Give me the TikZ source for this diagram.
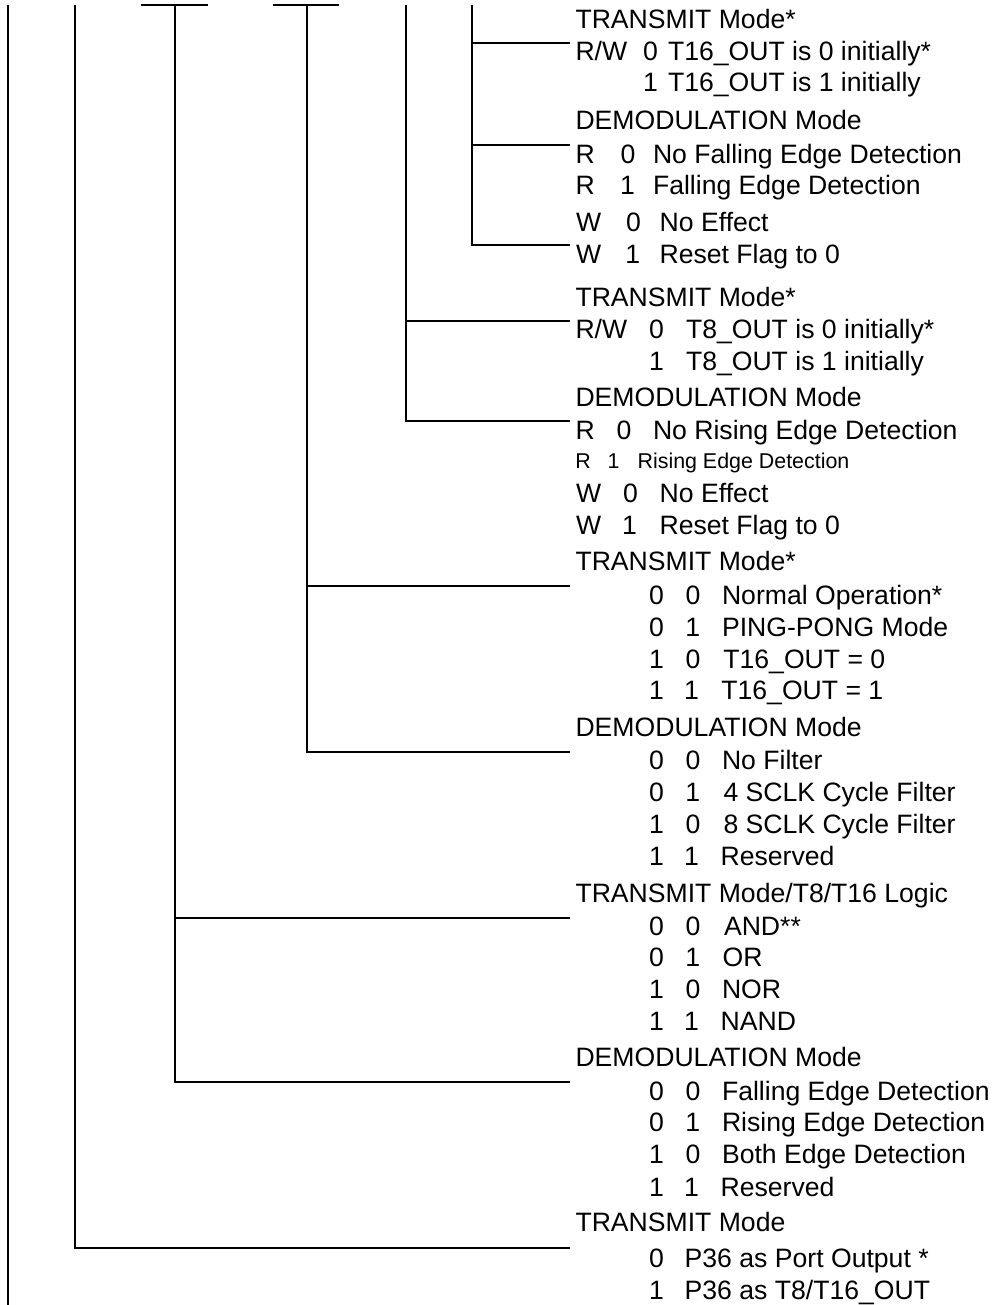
\documentclass[tikz,border=0pt]{standalone}
\usepackage{fontspec}
\setmainfont{Liberation Sans}
\begin{document}
\begin{tikzpicture}[x=1pt,y=-1pt,
  ln/.style={line width=1.1pt,black},
  txt/.style={anchor=base west,inner sep=0pt,outer sep=0pt,font=\fontsize{26.6}{32}\selectfont},
  sm/.style={anchor=base west,inner sep=0pt,outer sep=0pt,font=\fontsize{21.4}{26}\selectfont}]
\useasboundingbox (0,0) rectangle (1000,1305);
% ---------- bracket coordinates ----------
\coordinate (va) at (8,5);    \coordinate (vaend) at (8,1305);
\coordinate (vb) at (75,5);
\coordinate (vc) at (175,5);  \coordinate (tcl) at (141,5); \coordinate (tcr) at (208,5);
\coordinate (vd) at (307,5);  \coordinate (tdl) at (273,5); \coordinate (tdr) at (339,5);
\coordinate (ve) at (406,5);
\coordinate (vf) at (472,5);
\coordinate (f1) at (570,43);
\coordinate (f2) at (570,145);
\coordinate (f3) at (570,245);
\coordinate (e1) at (570,321);
\coordinate (e2) at (570,421);
\coordinate (d1) at (570,586);
\coordinate (d2) at (570,752);
\coordinate (c1) at (570,918);
\coordinate (c2) at (570,1082);
\coordinate (b1) at (570,1248);
% ---------- lines ----------
\draw[ln] (va) -- (vaend);
\draw[ln] (vb) |- (b1);
\draw[ln] (tcl) -- (tcr);
\draw[ln] (vc) |- (c2);
\draw[ln] (vc |- c1) -- (c1);
\draw[ln] (tdl) -- (tdr);
\draw[ln] (vd) |- (d2);
\draw[ln] (vd |- d1) -- (d1);
\draw[ln] (ve) |- (e2);
\draw[ln] (ve |- e1) -- (e1);
\draw[ln] (vf) |- (f3);
\draw[ln] (vf |- f1) -- (f1);
\draw[ln] (vf |- f2) -- (f2);
% ---------- group 1 ----------
\node[txt] (r1) at (575.5,28.3) {TRANSMIT Mode*};
\node[txt] (r2a) at (575.5,61) {R/W};
\node[txt] (r2b) at (643,61) {0};
\node[txt] (r2c) at (668,61) {T16\_OUT is 0 initially*};
\node[txt] (r3b) at (643,91.7) {1};
\node[txt] (r3c) at (668,91.7) {T16\_OUT is 1 initially};
\node[txt] (r4) at (575.5,130) {DEMODULATION Mode};
\node[txt] (r5a) at (575.5,163.3) {R};
\node[txt] (r5b) at (620.6,163.3) {0};
\node[txt] (r5c) at (653,163.3) {No Falling Edge Detection};
\node[txt] (r6a) at (575.5,195) {R};
\node[txt] (r6b) at (620,195) {1};
\node[txt] (r6c) at (653,195) {Falling Edge Detection};
\node[txt] (r7a) at (576,231.7) {W};
\node[txt] (r7b) at (626.2,231.7) {0};
\node[txt] (r7c) at (659.7,231.7) {No Effect};
\node[txt] (r8a) at (576,263.3) {W};
\node[txt] (r8b) at (625.4,263.3) {1};
\node[txt] (r8c) at (659.6,263.3) {Reset Flag to 0};
% ---------- group 2 ----------
\node[txt] (r9) at (575.5,306) {TRANSMIT Mode*};
\node[txt] (r10a) at (575.5,338.3) {R/W};
\node[txt] (r10b) at (649,338.3) {0};
\node[txt] (r10c) at (686,338.3) {T8\_OUT is 0 initially*};
\node[txt] (r11b) at (649,370) {1};
\node[txt] (r11c) at (686,370) {T8\_OUT is 1 initially};
\node[txt] (r12) at (575.5,406) {DEMODULATION Mode};
\node[txt] (r13a) at (575.5,439.3) {R};
\node[txt] (r13b) at (616.6,439.3) {0};
\node[txt] (r13c) at (653,439.3) {No Rising Edge Detection};
\node[sm] (r14a) at (575.3,468.3) {R};
\node[sm] (r14b) at (607.7,468.3) {1};
\node[sm] (r14c) at (637.6,468.3) {Rising Edge Detection};
\node[txt] (r15a) at (576,502.3) {W};
\node[txt] (r15b) at (623,502.3) {0};
\node[txt] (r15c) at (659.7,502.3) {No Effect};
\node[txt] (r16a) at (576,534.3) {W};
\node[txt] (r16b) at (622,534.3) {1};
\node[txt] (r16c) at (659.6,534.3) {Reset Flag to 0};
% ---------- group 3 ----------
\node[txt] (r17) at (575.5,570) {TRANSMIT Mode*};
\node[txt] (r18a) at (649,604) {0};
\node[txt] (r18b) at (685.6,604) {0};
\node[txt] (r18c) at (722,604) {Normal Operation*};
\node[txt] (r19a) at (649,636) {0};
\node[txt] (r19b) at (685.4,636) {1};
\node[txt] (r19c) at (722,636) {PING-PONG Mode};
\node[txt] (r20a) at (649,668) {1};
\node[txt] (r20b) at (685.6,668) {0};
\node[txt] (r20c) at (723.4,668) {T16\_OUT = 0};
\node[txt] (r21a) at (649,699.3) {1};
\node[txt] (r21b) at (684,699.3) {1};
\node[txt] (r21c) at (721.4,699.3) {T16\_OUT = 1};
\node[txt] (r22) at (575.5,736.7) {DEMODULATION Mode};
\node[txt] (r23a) at (649,769.3) {0};
\node[txt] (r23b) at (685.6,769.3) {0};
\node[txt] (r23c) at (722,769.3) {No Filter};
\node[txt] (r24a) at (649,801.7) {0};
\node[txt] (r24b) at (685.4,801.7) {1};
\node[txt] (r24c) at (723.5,801.7) {4 SCLK Cycle Filter};
\node[txt] (r25a) at (649,833.3) {1};
\node[txt] (r25b) at (685.6,833.3) {0};
\node[txt] (r25c) at (723.5,833.3) {8 SCLK Cycle Filter};
\node[txt] (r26a) at (649,865) {1};
\node[txt] (r26b) at (684,865) {1};
\node[txt] (r26c) at (720.6,865) {Reserved};
% ---------- group 4 ----------
\node[txt] (r27) at (575.5,902.7) {TRANSMIT Mode/T8/T16 Logic};
\node[txt] (r28a) at (649,935) {0};
\node[txt] (r28b) at (685.6,935) {0};
\node[txt] (r28c) at (724,935) {AND**};
\node[txt] (r29a) at (649,966.7) {0};
\node[txt] (r29b) at (685.4,966.7) {1};
\node[txt] (r29c) at (722.7,966.7) {OR};
\node[txt] (r30a) at (649,998.3) {1};
\node[txt] (r30b) at (685.6,998.3) {0};
\node[txt] (r30c) at (722,998.3) {NOR};
\node[txt] (r31a) at (649,1030) {1};
\node[txt] (r31b) at (684,1030) {1};
\node[txt] (r31c) at (720.7,1030) {NAND};
\node[txt] (r32) at (575.5,1066.7) {DEMODULATION Mode};
\node[txt] (r33a) at (649,1100) {0};
\node[txt] (r33b) at (685.6,1100) {0};
\node[txt] (r33c) at (722,1100) {Falling Edge Detection};
\node[txt] (r34a) at (649,1131.7) {0};
\node[txt] (r34b) at (685.4,1131.7) {1};
\node[txt] (r34c) at (722,1131.7) {Rising Edge Detection};
\node[txt] (r35a) at (649,1163.3) {1};
\node[txt] (r35b) at (685.6,1163.3) {0};
\node[txt] (r35c) at (722,1163.3) {Both Edge Detection};
\node[txt] (r36a) at (649,1196) {1};
\node[txt] (r36b) at (684,1196) {1};
\node[txt] (r36c) at (720.6,1196) {Reserved};
% ---------- group 5 ----------
\node[txt] (r37) at (575.5,1231) {TRANSMIT Mode};
\node[txt] (r38a) at (649,1267) {0};
\node[txt] (r38b) at (684.7,1267) {P36 as Port Output *};
\node[txt] (r39a) at (649,1299) {1};
\node[txt] (r39b) at (684.7,1299) {P36 as T8/T16\_OUT};
\end{tikzpicture}
\end{document}
